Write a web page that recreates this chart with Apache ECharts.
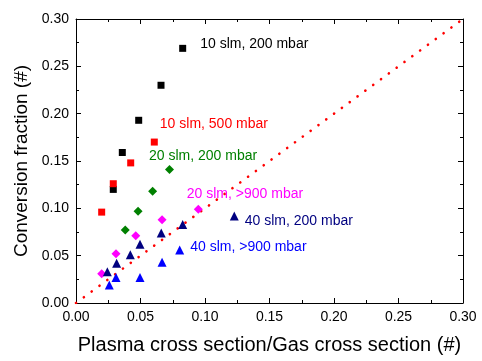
<!DOCTYPE html>
<html>
<head>
<meta charset="utf-8">
<script src="https://cdn.jsdelivr.net/npm/echarts@6/dist/echarts.min.js"></script>
<style>
  html, body { margin: 0; padding: 0; background: #fff; }
  #chart { width: 482px; height: 361px; }
</style>
</head>
<body>
<div id="chart"></div>
<script>
// Conversion fraction vs. plasma/gas cross-section ratio, per flow and pressure
const s10_200 = [[0.0827, 0.269], [0.0659, 0.230], [0.0486, 0.193], [0.0359, 0.159], [0.0289, 0.120]];
const s10_500 = [[0.0607, 0.170], [0.0424, 0.148], [0.0289, 0.126], [0.0199, 0.096]];
const s20_200 = [[0.0725, 0.141], [0.0594, 0.118], [0.0481, 0.097], [0.0382, 0.077]];
const s20_900 = [[0.0948, 0.099], [0.0667, 0.088], [0.0463, 0.071], [0.0310, 0.052], [0.0199, 0.031]];
const s40_200 = [[0.1227, 0.092], [0.0827, 0.083], [0.0661, 0.074], [0.0496, 0.062], [0.0421, 0.051], [0.0315, 0.042], [0.0243, 0.033]];
const s40_900 = [[0.0804, 0.056], [0.0667, 0.043], [0.0496, 0.027], [0.0310, 0.027], [0.0258, 0.019]];
const parity = [[0, 0], [0.30, 0.30]];

const names = ['10 slm, 200 mbar', '10 slm, 500 mbar', '20 slm, 200 mbar',
               '20 slm, >900 mbar', '40 slm, 200 mbar', '40 slm, >900 mbar'];
const axisTicks = ['0.00', '0.05', '0.10', '0.15', '0.20', '0.25', '0.30'];

const FONT = 'Liberation Sans, Arial, sans-serif';

function withLabel(data, idx, text, color, offset) {
  return data.map((d, i) => {
    if (i !== idx) return d;
    return {
      value: d,
      label: {
        show: true, formatter: text, position: 'right', distance: 5,
        offset: offset, color: color, fontSize: 14, fontFamily: FONT
      }
    };
  });
}

function scatter(name, data, symbol, size, color) {
  return {
    name: name, type: 'scatter', data: data, symbol: symbol, symbolSize: size,
    itemStyle: { color: color, opacity: 1 }, z: 3
  };
}

function axis(extra) {
  return Object.assign({
    type: 'value', min: 0, max: 0.30, interval: 0.05,
    axisLine: { show: true, onZero: false, lineStyle: { color: '#000', width: 1 } },
    axisTick: { show: true, inside: true, length: 5, lineStyle: { color: '#000' } },
    minorTick: { show: true, splitNumber: 2, length: 3, lineStyle: { color: '#000' } },
    splitLine: { show: false },
    axisLabel: { show: true, color: '#000', fontSize: 14, fontFamily: FONT, margin: 7,
                 formatter: v => axisTicks[Math.round(v / 0.05)] }
  }, extra);
}

const chart = echarts.init(document.getElementById('chart'));
chart.setOption({
  animation: false,
  grid: { left: 76, right: 19, top: 19, bottom: 58 },
  xAxis: [
    axis({
      position: 'bottom',
      name: 'Plasma cross section/Gas cross section (#)', nameLocation: 'middle', nameGap: 32,
      nameTextStyle: { color: '#000', fontSize: 20, fontFamily: FONT }
    }),
    axis({ position: 'top', axisLabel: { show: false } })
  ],
  yAxis: [
    axis({
      position: 'left',
      name: 'Conversion fraction (#)', nameLocation: 'middle', nameGap: 44,
      nameTextStyle: { color: '#000', fontSize: 19, fontFamily: FONT }
    }),
    axis({ position: 'right', axisLabel: { show: false } })
  ],
  series: [
    {
      type: 'line', data: parity, symbol: 'none', silent: true, z: 2,
      lineStyle: { color: '#ff0000', width: 2.6, type: [0.1, 9.6], cap: 'round' }
    },
    // keeps the top and right frame axes attached to the grid
    { type: 'scatter', xAxisIndex: 1, yAxisIndex: 1, data: [], silent: true },
    scatter(names[0], withLabel(s10_200, 0, names[0], '#000000', [9, -4]), 'rect', 7, '#000000'),
    scatter(names[1], withLabel(s10_500, 0, names[1], '#ff0000', [-3, -18]), 'rect', 7, '#ff0000'),
    scatter(names[2], withLabel(s20_200, 0, names[2], '#008000', [-30, -13]), 'diamond', 9, '#008000'),
    scatter(names[3], withLabel(s20_900, 0, names[3], '#ff00ff', [-21, -15]), 'diamond', 9, '#ff00ff'),
    scatter(names[4], withLabel(s40_200, 0, names[4], '#000080', [1, 5]), 'triangle', 9, '#000080'),
    scatter(names[5], withLabel(s40_900, 0, names[5], '#0000ff', [1, -3]), 'triangle', 9, '#0000ff')
  ]
});
</script>
</body>
</html>
